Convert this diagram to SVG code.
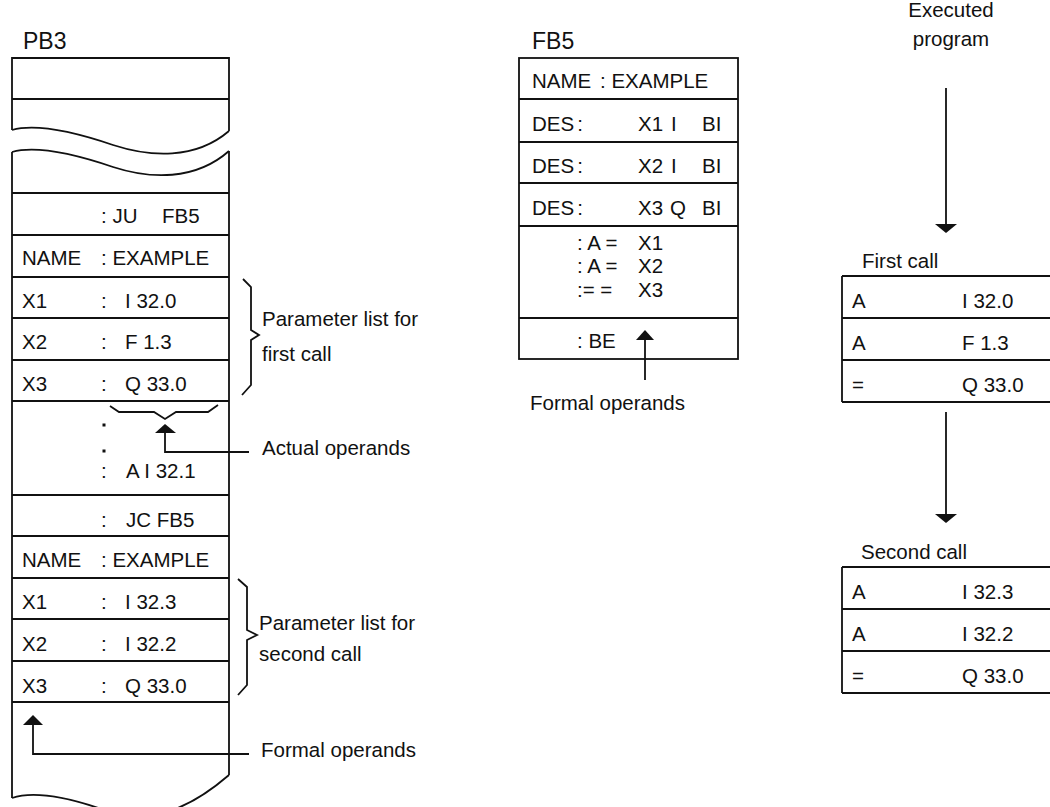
<svg xmlns="http://www.w3.org/2000/svg" width="1050" height="807" viewBox="0 0 1050 807">
<style>
.ln{stroke:#111;stroke-width:1.8;fill:none}
.ah{fill:#111;stroke:none}
text{font-family:"Liberation Sans",Arial,sans-serif;font-size:20.5px;fill:#111}
.ttl{font-size:23px}
.mid{text-anchor:middle}
</style>
<rect width="1050" height="807" fill="#fff"/>

<g id="PB3">
  <text class="ttl" x="23" y="49">PB3</text>
  <path class="ln" d="M12,130 L12,58 L229,58 L229,131 M12,99 L229,99"/>
  <path class="ln" d="M12,130 C30,125 60,127 113,145 C150,157 195,160 229,131"/>
  <path class="ln" d="M12,152 C30,147 60,149 113,167 C150,179 195,181 229,151"/>
  <path class="ln" d="M12,152 L12,798 M229,151 L229,775"/>
  <path class="ln" d="M12,798 C30,792 60,794 110,812 C160,826 200,800 229,775"/>
  <path class="ln" d="M12,193H229 M12,235H229 M12,277H229 M12,318H229 M12,360H229 M12,401H229 M12,495H229 M12,536H229 M12,578H229 M12,619H229 M12,661H229 M12,702H229"/>
  <text x="101" y="223">: JU</text><text x="162" y="223">FB5</text>
  <text x="22" y="265">NAME</text><text x="101" y="265">: EXAMPLE</text>
  <text x="22" y="308">X1</text><text x="101" y="308">:</text><text x="125" y="308">I 32.0</text>
  <text x="22" y="349">X2</text><text x="101" y="349">:</text><text x="125" y="349">F 1.3</text>
  <text x="22" y="391">X3</text><text x="101" y="391">:</text><text x="125" y="391">Q 33.0</text>
  <rect x="102.5" y="423.5" width="3" height="3" fill="#111"/>
  <rect x="102.5" y="449.5" width="3" height="3" fill="#111"/>
  <text x="101" y="478">:</text><text x="126" y="478">A I 32.1</text>
  <text x="101" y="527">:</text><text x="126" y="527">JC FB5</text>
  <text x="22" y="567">NAME</text><text x="101" y="567">: EXAMPLE</text>
  <text x="22" y="609">X1</text><text x="101" y="609">:</text><text x="125" y="609">I 32.3</text>
  <text x="22" y="651">X2</text><text x="101" y="651">:</text><text x="125" y="651">I 32.2</text>
  <text x="22" y="693">X3</text><text x="101" y="693">:</text><text x="125" y="693">Q 33.0</text>
</g>

<g id="brace-first">
  <polyline class="ln" points="243,279 251,287 251,330 259,335 251,340 251,385 242,395"/>
  <text x="262" y="326">Parameter list for</text>
  <text x="262" y="361">first call</text>
</g>

<g id="brace-second">
  <polyline class="ln" points="238,579 247,587 247,630 257,635 247,640 247,685 238,695"/>
  <text x="259" y="630">Parameter list for</text>
  <text x="259" y="661">second call</text>
</g>

<g id="brace-actual">
  <polyline class="ln" points="110,406 119,412 154,412 165,419 176,412 208,412 218,405"/>
</g>

<g id="FB5">
  <text class="ttl" x="532" y="49">FB5</text>
  <rect class="ln" x="519" y="58" width="219" height="301"/>
  <path class="ln" d="M519,99H738 M519,142H738 M519,183H738 M519,226H738 M519,318H738"/>
  <text x="532" y="88">NAME</text><text x="600" y="88">: EXAMPLE</text>
  <text x="532" y="131">DES<tspan dx="3">:</tspan></text><text x="638" y="131">X1</text><text x="671" y="131">I</text><text x="702" y="131">BI</text>
  <text x="532" y="173">DES<tspan dx="3">:</tspan></text><text x="638" y="173">X2</text><text x="671" y="173">I</text><text x="702" y="173">BI</text>
  <text x="532" y="215">DES<tspan dx="3">:</tspan></text><text x="638" y="215">X3</text><text x="670" y="215">Q</text><text x="702" y="215">BI</text>
  <text x="577" y="250">: A =</text><text x="638" y="250">X1</text>
  <text x="577" y="273">: A =</text><text x="638" y="273">X2</text>
  <text x="577" y="297">:= =</text><text x="638" y="297">X3</text>
  <text x="577" y="348">: BE</text>
</g>

<g id="executed-label">
  <text class="mid" x="951" y="17">Executed</text>
  <text class="mid" x="951" y="46">program</text>
</g>

<g id="first-call">
  <text x="862" y="268">First call</text>
  <path class="ln" d="M842,276V402 M842,276H1050 M842,318H1050 M842,360H1050 M842,402H1050"/>
  <text x="852" y="308">A</text><text x="962" y="308">I 32.0</text>
  <text x="852" y="350">A</text><text x="962" y="350">F 1.3</text>
  <text x="852" y="392">=</text><text x="962" y="392">Q 33.0</text>
</g>

<g id="second-call">
  <text x="861" y="559">Second call</text>
  <path class="ln" d="M842,567V693 M842,567H1050 M842,609H1050 M842,651H1050 M842,693H1050"/>
  <text x="852" y="599">A</text><text x="962" y="599">I 32.3</text>
  <text x="852" y="641">A</text><text x="962" y="641">I 32.2</text>
  <text x="852" y="683">=</text><text x="962" y="683">Q 33.0</text>
</g>

<g id="labels">
  <text x="262" y="455">Actual operands</text>
  <text x="261" y="757">Formal operands</text>
  <text x="530" y="410">Formal operands</text>
</g>

<g id="connectors">
  <path class="ln" d="M165,432 V452 H249"/>
  <polygon class="ah" points="165,424 176,433 155,433"/>
  <path class="ln" d="M33,724 V754 H249"/>
  <polygon class="ah" points="33,715 43,725 23,725"/>
  <path class="ln" d="M645,339 V380"/>
  <polygon class="ah" points="645,330 654,340 636,340"/>
  <path class="ln" d="M946,88 V225"/>
  <polygon class="ah" points="935,224 957,224 946,233"/>
  <path class="ln" d="M946,412 V515"/>
  <polygon class="ah" points="935,514 957,514 946,523"/>
</g>
</svg>
